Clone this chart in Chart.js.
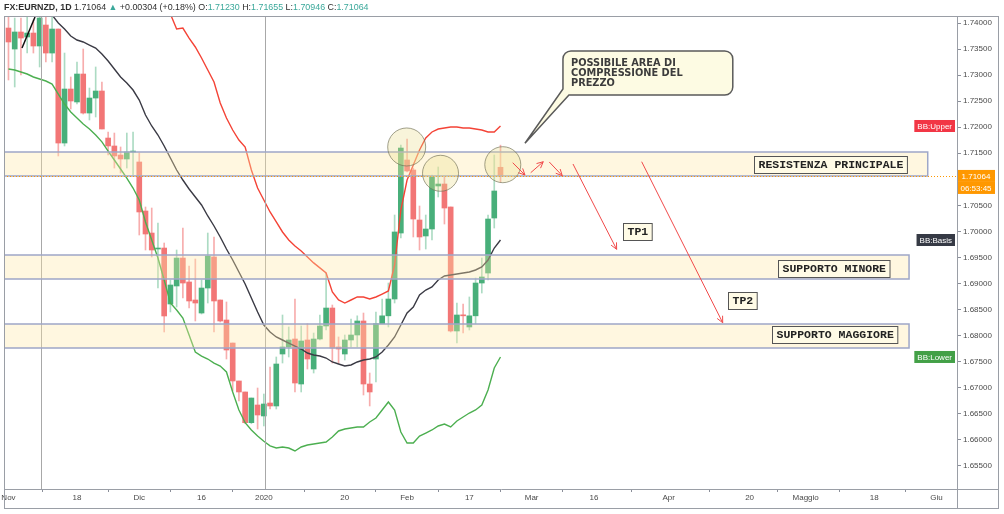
<!DOCTYPE html>
<html>
<head>
<meta charset="utf-8">
<script src="https://cdn.jsdelivr.net/npm/chart.js@4.4.1/dist/chart.umd.min.js"></script>
<style>
html, body { margin: 0; padding: 0; background: #fff; overflow: hidden; }
</style>
</head>
<body>
<canvas id="chart" width="1004" height="514"></canvas>
<script>
// EURNZD daily candles, first one is bar index -1 (31 Oct 2019)
const barStart = -1;
const opens = [1.74135,1.73904,1.73501,1.73828,1.73732,1.73808,1.73559,1.73962,1.73424,1.73885,
  1.71696,1.72733,1.72484,1.73021,1.72272,1.72560,1.72695,1.71792,1.71639,1.71466,
  1.71389,1.71523,1.71332,1.70391,1.69968,1.69661,1.69680,1.68605,1.68951,1.69488,
  1.69028,1.68682,1.68432,1.68912,1.69508,1.68682,1.68298,1.67856,1.67127,1.66916,
  1.66326,1.66666,1.66455,1.66704,1.66647,1.67645,1.67780,1.67933,1.67069,1.67914,
  1.67357,1.67933,1.68183,1.68528,1.67780,1.67645,1.67914,1.68010,1.68279,1.67069,
  1.67549,1.68226,1.68378,1.68701,1.69968,1.71370,1.71178,1.70218,1.69911,1.70045,
  1.70871,1.70909,1.70468,1.68087,1.68394,1.68164,1.68378,1.69008,1.69200,1.70256,
  1.71230];
const highs = [1.74173,1.74116,1.74096,1.74096,1.74116,1.74058,1.74154,1.74154,1.74116,1.73885,
  1.73424,1.72964,1.73252,1.73501,1.72752,1.73156,1.72868,1.71908,1.71888,1.71620,
  1.71888,1.71908,1.71504,1.70468,1.70448,1.70160,1.69776,1.69066,1.69642,1.70064,
  1.69335,1.69469,1.69066,1.69968,1.69892,1.68682,1.68644,1.67856,1.67127,1.66916,
  1.66800,1.66992,1.66877,1.67396,1.67588,1.68394,1.68164,1.68701,1.68183,1.68226,
  1.68048,1.68394,1.69200,1.68586,1.67972,1.68010,1.68317,1.68378,1.68432,1.67280,
  1.68452,1.68701,1.69008,1.70314,1.71658,1.71773,1.71216,1.70487,1.70314,1.71082,
  1.71236,1.71044,1.70468,1.68624,1.68605,1.68740,1.69104,1.69488,1.70314,1.71466,
  1.71655];
const lows = [1.73770,1.72906,1.72772,1.73002,1.73424,1.73424,1.73156,1.73252,1.73252,1.71447,
  1.71639,1.72349,1.72445,1.72253,1.72138,1.72196,1.71965,1.71466,1.71216,1.71120,
  1.71216,1.71082,1.69930,1.69642,1.69508,1.68912,1.68068,1.68452,1.68548,1.68720,
  1.68528,1.68279,1.68413,1.68624,1.68068,1.68260,1.67549,1.66935,1.66743,1.66306,
  1.66306,1.66205,1.66263,1.66589,1.66589,1.67472,1.67588,1.66916,1.66916,1.67357,
  1.67280,1.67914,1.68106,1.67472,1.67472,1.67530,1.67780,1.67780,1.66858,1.66647,
  1.67108,1.68226,1.68164,1.68624,1.69872,1.71140,1.69892,1.69642,1.69661,1.69834,
  1.70660,1.70141,1.68068,1.67856,1.68048,1.68106,1.68226,1.68816,1.69066,1.70064,
  1.70946];
const closes = [1.73904,1.73636,1.73828,1.73712,1.73808,1.73559,1.74096,1.73424,1.73885,1.71696,
  1.72733,1.72503,1.73021,1.72272,1.72560,1.72695,1.71965,1.71639,1.71447,1.71389,
  1.71523,1.71542,1.70372,1.69949,1.69642,1.69680,1.68375,1.68970,1.69488,1.69008,
  1.68663,1.68624,1.68912,1.69527,1.68663,1.68279,1.67722,1.67127,1.66916,1.66326,
  1.66800,1.66474,1.66685,1.66647,1.67453,1.67780,1.67914,1.67088,1.67895,1.67549,
  1.67933,1.68183,1.68528,1.67760,1.67741,1.67914,1.68010,1.68279,1.67069,1.66916,
  1.68226,1.68378,1.68701,1.69988,1.71600,1.71159,1.70237,1.69892,1.70045,1.71044,
  1.70909,1.70448,1.68087,1.68394,1.68378,1.68378,1.69008,1.69124,1.70237,1.70775,
  1.71064];

// Bollinger bands (20, 2), bar index 0..79
const bbUpper = [null,null,null,null,null,null,null,null,null,null,
  null,null,null,null,null,null,null,null,null,null,
  null,null,null,null,1.74600,1.74400,1.74173,1.73885,1.73904,1.73712,
  1.73540,1.73328,1.73098,1.72868,1.72464,1.72176,1.71946,1.71754,1.71620,1.71178,
  1.70832,1.70602,1.70372,1.70180,1.69988,1.69834,1.69719,1.69623,1.69508,1.69394,
  1.69298,1.69200,1.68836,1.68682,1.68624,1.68682,1.68740,1.68740,1.68701,1.68740,
  1.68797,1.68855,1.69354,1.70410,1.70986,1.71274,1.71562,1.71792,1.71908,1.71965,
  1.71984,1.72004,1.72004,1.71984,1.71984,1.71965,1.71946,1.71908,1.71908,1.72023];
const bbBasis = [1.74550,1.74520,1.74480,1.74440,1.74400,1.74350,1.74280,1.74154,1.74000,1.73885,
  1.73751,1.73674,1.73636,1.73578,1.73520,1.73405,1.73271,1.73117,1.72964,1.72848,
  1.72714,1.72522,1.72234,1.72023,1.71850,1.71639,1.71408,1.71178,1.70986,1.70813,
  1.70660,1.70506,1.70295,1.70103,1.69892,1.69661,1.69450,1.69220,1.68989,1.68720,
  1.68452,1.68202,1.68068,1.67972,1.67914,1.67856,1.67798,1.67741,1.67664,1.67626,
  1.67606,1.67568,1.67492,1.67453,1.67414,1.67434,1.67492,1.67530,1.67549,1.67588,
  1.67684,1.67818,1.67972,1.68202,1.68432,1.68548,1.68778,1.68874,1.68932,1.69066,
  1.69143,1.69162,1.69181,1.69200,1.69220,1.69258,1.69316,1.69450,1.69680,1.69834];
const bbLower = [1.73117,1.73098,1.73060,1.73021,1.72964,1.72925,1.72887,1.72829,1.72637,1.72445,
  1.72292,1.72176,1.72061,1.71965,1.71850,1.71718,1.71542,1.71370,1.71197,1.71024,
  1.70832,1.70602,1.70180,1.69834,1.69488,1.69066,1.68624,1.68490,1.68336,1.68010,
  1.67684,1.67606,1.67549,1.67472,1.67414,1.67300,1.66916,1.66570,1.66326,1.66186,
  1.66070,1.65970,1.65880,1.65840,1.65860,1.65840,1.65783,1.65860,1.65898,1.65917,
  1.65936,1.65956,1.66052,1.66167,1.66205,1.66224,1.66244,1.66244,1.66340,1.66416,
  1.66570,1.66724,1.66570,1.66148,1.65936,1.65936,1.66070,1.66128,1.66186,1.66263,
  1.66301,1.66244,1.66359,1.66436,1.66512,1.66570,1.66666,1.66954,1.67376,1.67588];

const yTicks = [1.655,1.66,1.665,1.67,1.675,1.68,1.685,1.69,1.695,1.70,1.705,1.71,1.715,1.72,1.725,1.73,1.735,1.74];
const xTickIdx = [0, 11, 21, 31, 41, 54, 64, 74, 84, 94, 106, 119, 128, 139, 149];
const xTickLabels = ['Nov','18','Dic','16','2020','20','Feb','17','Mar','16','Apr','20','Maggio','18','Giu'];

// drawings (bar index / price)
const zones = [
  { top: 1.71523, bottom: 1.71063, end: 147.6 },
  { top: 1.69546, bottom: 1.69085, end: 144.6 },
  { top: 1.68221, bottom: 1.67760, end: 144.6 }
];
const labels = [
  { text: 'RESISTENZA PRINCIPALE', x: 119.7, y: 1.71284 },
  { text: 'SUPPORTO MINORE', x: 123.6, y: 1.69291 },
  { text: 'TP1', x: 98.7, y: 1.69988 },
  { text: 'TP2', x: 115.5, y: 1.68663 },
  { text: 'SUPPORTO MAGGIORE', x: 122.6, y: 1.68010 }
];
const circles = [
  { x: 63.94, y: 1.71620, r: 19 },
  { x: 69.37, y: 1.71115, r: 18 },
  { x: 79.37, y: 1.71280, r: 18 }
];
const arrows = [
  [80.96, 1.71318, 82.93, 1.71082],
  [83.85, 1.71126, 85.87, 1.71337],
  [86.83, 1.71332, 88.92, 1.71069],
  [90.64, 1.71293, 97.65, 1.69655],
  [101.67, 1.71337, 114.68, 1.68246]
];
const callout = { left: 89.03, right: 116.3, top: 1.73463, bottom: 1.72618, tipX: 82.93, tipY: 1.71691,
  lines: ['POSSIBILE AREA DI', 'COMPRESSIONE DEL', 'PREZZO'] };
const trendLine = [2.17, 1.73520, 4.26, 1.74116];
const vLines = [5.22, 41.19];

const GREEN = 'rgb(72,175,122)';
const GREEN_W = 'rgba(72,175,122,0.45)';
const RED = 'rgb(242,118,118)';
const RED_W = 'rgba(242,118,118,0.6)';
const TEAL = '#3aa89a';

const isUp = k => closes[k] >= opens[k];
const bodyData = opens.map((o, k) => ({ x: barStart + k, y: [o, closes[k]] }));
const wickData = lows.map((l, k) => ({ x: barStart + k, y: [l, highs[k]] }));
const toPts = arr => arr.map((v, i) => ({ x: i, y: v }));

function arrow(ctx, x0, y0, x1, y1) {
  const a = Math.atan2(y1 - y0, x1 - x0);
  ctx.beginPath();
  ctx.moveTo(x0, y0);
  ctx.lineTo(x1, y1);
  ctx.moveTo(x1 - 7 * Math.cos(a - 0.45), y1 - 7 * Math.sin(a - 0.45));
  ctx.lineTo(x1, y1);
  ctx.lineTo(x1 - 7 * Math.cos(a + 0.45), y1 - 7 * Math.sin(a + 0.45));
  ctx.stroke();
}

function tag(ctx, text, right, cy, bg, fg, w) {
  ctx.font = '8px "Liberation Sans", sans-serif';
  const bw = w || ctx.measureText(text).width + 6;
  ctx.fillStyle = bg;
  ctx.fillRect(right - bw, cy - 6, bw, 12);
  ctx.fillStyle = fg;
  ctx.textAlign = 'center';
  ctx.textBaseline = 'middle';
  ctx.fillText(text, right - bw / 2, cy + 0.5);
}

const drawings = {
  id: 'drawings',
  afterDatasetsDraw(chart) {
    const { ctx, chartArea: a } = chart;
    const X = v => chart.scales.x.getPixelForValue(v);
    const Y = v => chart.scales.y.getPixelForValue(v);
    ctx.save();
    ctx.beginPath();
    ctx.rect(a.left, a.top, a.right - a.left, a.bottom - a.top);
    ctx.clip();

    // vertical lines
    ctx.strokeStyle = '#a8a8a8';
    ctx.lineWidth = 1;
    vLines.forEach(v => {
      const x = Math.round(X(v)) + 0.5;
      ctx.beginPath(); ctx.moveTo(x, a.top); ctx.lineTo(x, a.bottom); ctx.stroke();
    });

    // trend line
    ctx.strokeStyle = '#111';
    ctx.lineWidth = 1.5;
    ctx.beginPath();
    ctx.moveTo(X(trendLine[0]), Y(trendLine[1]));
    ctx.lineTo(X(trendLine[2]), Y(trendLine[3]));
    ctx.stroke();

    // price zones
    zones.forEach(z => {
      const x0 = a.left, x1 = X(z.end), y0 = Y(z.top), y1 = Y(z.bottom);
      ctx.fillStyle = 'rgba(255,232,165,0.35)';
      ctx.fillRect(x0, y0, x1 - x0, y1 - y0);
      ctx.strokeStyle = '#9ea7c8';
      ctx.lineWidth = 1.5;
      ctx.beginPath();
      ctx.moveTo(x0, y0); ctx.lineTo(x1, y0); ctx.lineTo(x1, y1); ctx.lineTo(x0, y1);
      ctx.stroke();
    });

    // last price dotted line
    ctx.strokeStyle = '#ff9800';
    ctx.lineWidth = 1;
    ctx.setLineDash([1, 2]);
    const lp = Math.round(Y(closes[closes.length - 1])) + 0.5;
    ctx.beginPath(); ctx.moveTo(a.left, lp); ctx.lineTo(a.right, lp); ctx.stroke();
    ctx.setLineDash([]);

    // circles
    circles.forEach(c => {
      ctx.beginPath();
      ctx.arc(X(c.x), Y(c.y), c.r, 0, Math.PI * 2);
      ctx.fillStyle = 'rgba(232,222,140,0.32)';
      ctx.fill();
      ctx.strokeStyle = 'rgba(110,110,85,0.65)';
      ctx.lineWidth = 1;
      ctx.stroke();
    });

    // arrows
    ctx.strokeStyle = '#f04a4a';
    ctx.lineWidth = 1;
    arrows.forEach(r => arrow(ctx, X(r[0]), Y(r[1]), X(r[2]), Y(r[3])));

    // callout
    const l = X(callout.left), rt = X(callout.right), t = Y(callout.top), b = Y(callout.bottom);
    const rad = 8;
    ctx.beginPath();
    ctx.moveTo(l + rad, t);
    ctx.lineTo(rt - rad, t);
    ctx.arcTo(rt, t, rt, t + rad, rad);
    ctx.lineTo(rt, b - rad);
    ctx.arcTo(rt, b, rt - rad, b, rad);
    ctx.lineTo(l + 6, b);
    ctx.lineTo(X(callout.tipX), Y(callout.tipY));
    ctx.lineTo(l, b - 6);
    ctx.lineTo(l, t + rad);
    ctx.arcTo(l, t, l + rad, t, rad);
    ctx.closePath();
    ctx.fillStyle = '#fdfbe3';
    ctx.fill();
    ctx.strokeStyle = '#5a5a5a';
    ctx.lineWidth = 1.5;
    ctx.stroke();
    ctx.fillStyle = '#3c3c3c';
    ctx.font = 'bold 9.8px "DejaVu Sans", sans-serif';
    ctx.textAlign = 'left';
    ctx.textBaseline = 'middle';
    callout.lines.forEach((s, i) => ctx.fillText(s, l + 8, t + 12.5 + i * 9.9));

    // text boxes
    ctx.font = 'bold 11.5px "Liberation Mono", monospace';
    labels.forEach(lb => {
      const w = ctx.measureText(lb.text).width + 8;
      const x = Math.round(X(lb.x)) + 0.5, y = Math.round(Y(lb.y) - 8.5) + 0.5;
      ctx.fillStyle = '#fffbe6';
      ctx.fillRect(x, y, w, 17);
      ctx.strokeStyle = '#555';
      ctx.lineWidth = 1;
      ctx.strokeRect(x, y, w, 17);
      ctx.fillStyle = '#222';
      ctx.fillText(lb.text, x + 4, y + 9);
    });
    ctx.restore();

    // indicator tags
    const n = bbUpper.length - 1;
    ctx.save();
    tag(ctx, 'BB:Upper', a.right - 2, Y(bbUpper[n]), '#f23645', '#fff');
    tag(ctx, 'BB:Basis', a.right - 2, Y(bbBasis[n]), '#363a45', '#fff');
    tag(ctx, 'BB:Lower', a.right - 2, Y(bbLower[n]), '#43a047', '#fff');
    tag(ctx, closes[closes.length - 1].toFixed(5), a.right + 38, Y(closes[closes.length - 1]), '#ff9800', '#fff', 38);
    tag(ctx, '06:53:45', a.right + 38, Y(closes[closes.length - 1]) + 12, '#ff9800', '#fff', 38);
    ctx.restore();
  },
  afterDraw(chart) {
    const { ctx, chartArea: a } = chart;
    ctx.save();
    // frame
    ctx.strokeStyle = '#9a9ea6';
    ctx.lineWidth = 1;
    ctx.strokeRect(4.5, 16.5, 994, 492);
    ctx.beginPath();
    ctx.moveTo(Math.round(a.right) + 0.5, 16); ctx.lineTo(Math.round(a.right) + 0.5, 509);
    ctx.moveTo(4, Math.round(a.bottom) + 0.5); ctx.lineTo(999, Math.round(a.bottom) + 0.5);
    ctx.stroke();

    // header legend
    const last = opens.length - 1;
    const parts = [
      ['FX:EURNZD, 1D ', '#2f2f2f', 'bold'],
      [closes[last].toFixed(5) + ' ', '#2f2f2f', ''],
      ['\u25B2', TEAL, ''],
      [' +0.00304 (+0.18%) ', '#2f2f2f', ''],
      ['O:', '#2f2f2f', ''], [opens[last].toFixed(5), TEAL, ''],
      [' H:', '#2f2f2f', ''], [highs[last].toFixed(5), TEAL, ''],
      [' L:', '#2f2f2f', ''], [lows[last].toFixed(5), TEAL, ''],
      [' C:', '#2f2f2f', ''], [closes[last].toFixed(5), TEAL, '']
    ];
    const font = (w, s) => `${w} ${s}px "Liberation Sans", "DejaVu Sans", sans-serif`;
    let total = 0;
    parts.forEach(p => { ctx.font = font(p[2], 10); total += ctx.measureText(p[0]).width; });
    const size = 10 * 365 / total;
    let x = 4;
    ctx.textBaseline = 'middle';
    ctx.textAlign = 'left';
    parts.forEach(p => {
      ctx.font = font(p[2], size);
      ctx.fillStyle = p[1];
      ctx.fillText(p[0], x, 7.5);
      x += ctx.measureText(p[0]).width;
    });
    ctx.restore();
  }
};

new Chart(document.getElementById('chart'), {
  type: 'bar',
  data: {
    datasets: [
      { type: 'line', data: toPts(bbUpper), borderColor: '#f44336', borderWidth: 1.4, pointRadius: 0, order: 0, clip: 0 },
      { type: 'line', data: toPts(bbBasis), borderColor: '#3a3a44', borderWidth: 1.4, pointRadius: 0, order: 0, clip: 0 },
      { type: 'line', data: toPts(bbLower), borderColor: '#4caf50', borderWidth: 1.4, pointRadius: 0, order: 0, clip: 0 },
      { data: bodyData, backgroundColor: c => isUp(c.dataIndex) ? GREEN : RED,
        barThickness: 5, minBarLength: 1, grouped: false, order: 1, clip: 0 },
      { data: wickData, backgroundColor: c => isUp(c.dataIndex) ? GREEN_W : RED_W,
        barThickness: 1, grouped: false, order: 2, clip: 0 }
    ]
  },
  options: {
    responsive: false,
    animation: false,
    events: [],
    layout: { padding: { left: 4, top: 16, right: 5, bottom: 5 } },
    plugins: { legend: { display: false }, tooltip: { enabled: false } },
    scales: {
      x: {
        type: 'linear', min: -0.72, max: 152.3, offset: false,
        grid: { drawOnChartArea: false, tickLength: 3, color: '#8a8e99' },
        border: { display: false },
        ticks: { autoSkip: false, maxRotation: 0, color: '#4a4a4a', padding: 1,
          font: { family: '"Liberation Sans", sans-serif', size: 8 },
          callback: v => xTickLabels[xTickIdx.indexOf(v)] },
        afterBuildTicks: s => { s.ticks = xTickIdx.map(v => ({ value: v })); },
        afterFit: s => { s.height = 20; }
      },
      y: {
        position: 'right', min: 1.65053, max: 1.74135,
        grid: { drawOnChartArea: false, tickLength: 4, color: '#8a8e99' },
        border: { display: false },
        ticks: { color: '#4a4a4a', padding: 2,
          font: { family: '"Liberation Sans", sans-serif', size: 8 },
          callback: v => v.toFixed(5) },
        afterBuildTicks: s => { s.ticks = yTicks.map(v => ({ value: v })); },
        afterFit: s => { s.width = 42; }
      }
    }
  },
  plugins: [drawings]
});
</script>
</body>
</html>
